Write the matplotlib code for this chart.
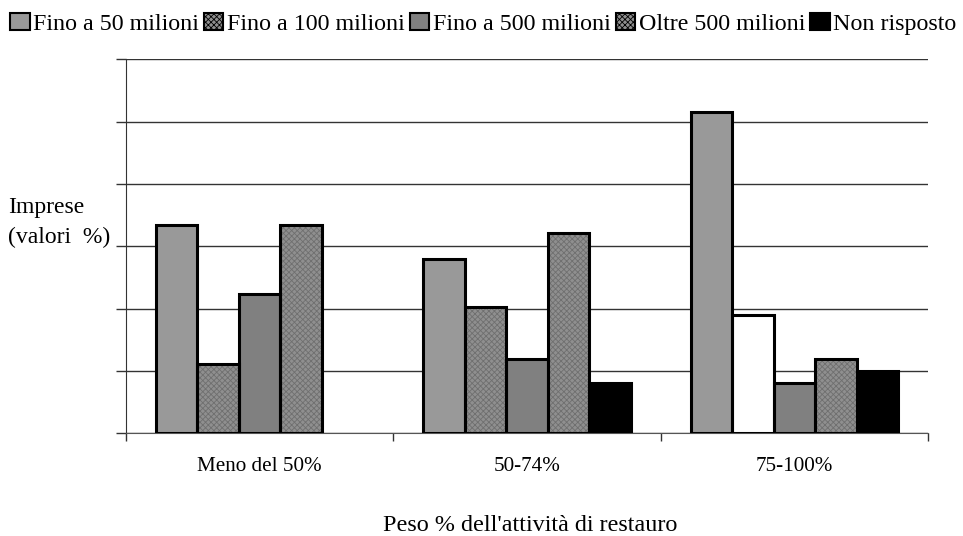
import numpy as np
import matplotlib
matplotlib.use("Agg")
import matplotlib.pyplot as plt

plt.rcParams['font.family'] = ['Liberation Serif', 'DejaVu Serif']
plt.rcParams['hatch.linewidth'] = 0.6

# data (gridline step = 10)
categories = ["Meno del 50%", "50-74%", "75-100%"]
series = ["Fino a 50 milioni", "Fino a 100 milioni", "Fino a 500 milioni",
          "Oltre 500 milioni", "Non risposto"]
fino_50 = [33.4, 28.0, 51.5]
fino_100 = [11.2, 20.2, 19.0]
fino_500 = [22.3, 12.0, 8.1]
oltre_500 = [33.4, 32.1, 11.9]
non_risposto = [0.0, 8.1, 10.0]
values = [fino_50, fino_100, fino_500, oltre_500, non_risposto]

# styling per series
fills = ["#999999", "#8f8f8f", "#808080", "#8f8f8f", "#000000"]
hatches = [None, "xxxxxx", None, "xxxxxx", None]

fig = plt.figure(figsize=(9.63, 5.36), dpi=100)
ax = fig.add_axes([0.1308, 0.1916, 0.8329, 0.6974])

x = np.arange(len(categories)) + 0.5
width = 0.155
handles = []
for i, (name, vals) in enumerate(zip(series, values)):
    for j, v in enumerate(vals):
        if v <= 0:
            continue
        p = x[j] + (i - 2) * width
        c = fills[i]
        h = hatches[i]
        if i == 1 and j == 2:
            c, h = "white", None  # third group drawn unfilled in the original
        ax.bar(p, v, width, color=c, hatch=h, edgecolor="#6f6f6f",
               linewidth=0, zorder=3)
        ax.bar(p, v, width, facecolor="none", edgecolor="black",
               linewidth=2.2, zorder=4)
    handles.append(plt.Rectangle((0, 0), 1, 1, facecolor=fills[i],
                                 hatch=hatches[i], edgecolor="black",
                                 linewidth=1.5))

ax.set_xlim(0, 3)
ax.set_ylim(0, 60)
ax.set_yticks(np.arange(0, 61, 10))
ax.set_yticklabels([])
ax.yaxis.grid(True, color="#333333", linewidth=1.0, zorder=0)
ax.set_axisbelow(True)
ax.tick_params(axis="y", length=7, width=1, color="#333333")

ax.set_xticks([0, 1, 2, 3])
ax.set_xticklabels([])
ax.set_xticks(x, minor=True)
ax.set_xticklabels(categories, minor=True, fontsize=15.2)
ax.tick_params(axis="x", which="minor", length=0, pad=17)
ax.tick_params(axis="x", which="major", length=6, width=1, color="#333333")

for s in ["top", "right"]:
    ax.spines[s].set_visible(False)
ax.spines["left"].set_color("#333333")
ax.spines["bottom"].set_color("#555555")

fig.text(0.008, 0.585, "Imprese\n(valori  %)", fontsize=17, ha="left",
         va="center", linespacing=1.6)
fig.text(0.551, 0.02, "Peso % dell'attività di restauro", fontsize=17.4,
         ha="center", va="center")

fig.legend(handles, series, loc="upper center", bbox_to_anchor=(0.502, 1.0),
           ncol=5, frameon=False, fontsize=17.3, handlelength=0.8,
           handleheight=0.7, handletextpad=0.15, columnspacing=0.22,
           borderaxespad=0.15)

fig.savefig("out.png", dpi=100)
